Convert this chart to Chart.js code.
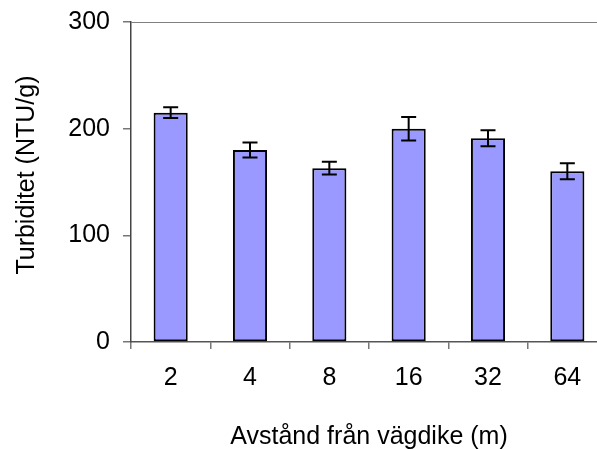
<!DOCTYPE html>
<html>
<head>
<meta charset="utf-8">
<script src="https://cdn.jsdelivr.net/npm/chart.js@4/dist/chart.umd.min.js"></script>
<style>
  html, body { margin: 0; padding: 0; background: #fff; overflow: hidden; }
  canvas { display: block; }
</style>
</head>
<body>
<canvas id="barChart" width="620" height="452"></canvas>
<script>
// avstånd från vägdike (m)
const categories = ['2', '4', '8', '16', '32', '64'];
// turbiditet, medel och fel
const turbidity = [215, 180, 163, 200, 191, 160];
const errors = [5, 7, 6, 11, 7.5, 7.5];
const yTicks = [0, 100, 200, 300];

const FONT = { family: 'Liberation Sans, Arial, sans-serif', size: 25 };

// error bars + top frame line
const errorBars = {
    id: 'errorBars',
    afterDatasetsDraw(chart) {
        const ctx = chart.ctx;
        const yScale = chart.scales.y;
        const area = chart.chartArea;
        ctx.save();
        ctx.strokeStyle = '#808080';
        ctx.lineWidth = 1;
        ctx.beginPath();
        ctx.moveTo(area.left, Math.round(area.top) + 0.5);
        ctx.lineTo(area.right, Math.round(area.top) + 0.5);
        ctx.stroke();

        ctx.strokeStyle = '#000';
        ctx.lineWidth = 2;
        chart.getDatasetMeta(0).data.forEach((bar, i) => {
            const hi = yScale.getPixelForValue(turbidity[i] + errors[i]);
            const lo = yScale.getPixelForValue(turbidity[i] - errors[i]);
            const cap = 7.5;
            ctx.beginPath();
            ctx.moveTo(bar.x, hi);
            ctx.lineTo(bar.x, lo);
            ctx.moveTo(bar.x - cap, hi);
            ctx.lineTo(bar.x + cap, hi);
            ctx.moveTo(bar.x - cap, lo);
            ctx.lineTo(bar.x + cap, lo);
            ctx.stroke();
        });
        ctx.restore();
    }
};

let ctx = document.getElementById('barChart').getContext('2d');

let myBarChart = new Chart(ctx, {
    type: 'bar',
    data: {
        labels: categories,
        datasets: [{
            label: 'Turbiditet',
            data: turbidity,
            backgroundColor: '#9999FF',
            borderColor: '#000000',
            borderWidth: 2,
            borderSkipped: false,
            barPercentage: 0.86,
            categoryPercentage: 0.5
        }]
    },
    options: {
        responsive: false,
        animation: false,
        layout: { padding: { top: 22, right: 13, left: 0, bottom: 0 } },
        plugins: {
            legend: { display: false },
            tooltip: { enabled: false }
        },
        scales: {
            x: {
                afterFit: (scale) => {
                    scale.height = 110;
                    scale.paddingLeft = 0;
                    scale.paddingRight = 0;
                },
                border: { display: true, color: '#555555', width: 1.5 },
                grid: {
                    offset: true,
                    drawOnChartArea: false,
                    drawTicks: true,
                    tickLength: 7,
                    color: '#777777',
                    lineWidth: 1.5
                },
                ticks: { color: '#000', font: FONT, padding: 14 },
                title: {
                    display: true,
                    text: 'Avstånd från vägdike (m)',
                    color: '#000',
                    font: FONT,
                    padding: { top: 0, bottom: 0 }
                }
            },
            y: {
                min: 0,
                max: 300,
                afterFit: (scale) => {
                    scale.width = 131;
                    scale.paddingTop = 0;
                    scale.paddingBottom = 0;
                },
                afterBuildTicks: (scale) => { scale.ticks = yTicks.map(v => ({ value: v })); },
                border: { display: true, color: '#444444', width: 1.5 },
                grid: {
                    drawOnChartArea: false,
                    drawTicks: true,
                    tickLength: 8,
                    color: '#777777',
                    lineWidth: 1.5
                },
                ticks: { color: '#000', font: FONT, padding: 13 },
                title: {
                    display: true,
                    text: '\u00a0\u00a0Turbiditet (NTU/g)',
                    color: '#000',
                    font: FONT,
                    padding: { top: 12, bottom: 0 }
                }
            }
        }
    },
    plugins: [errorBars]
});
</script>
</body>
</html>
